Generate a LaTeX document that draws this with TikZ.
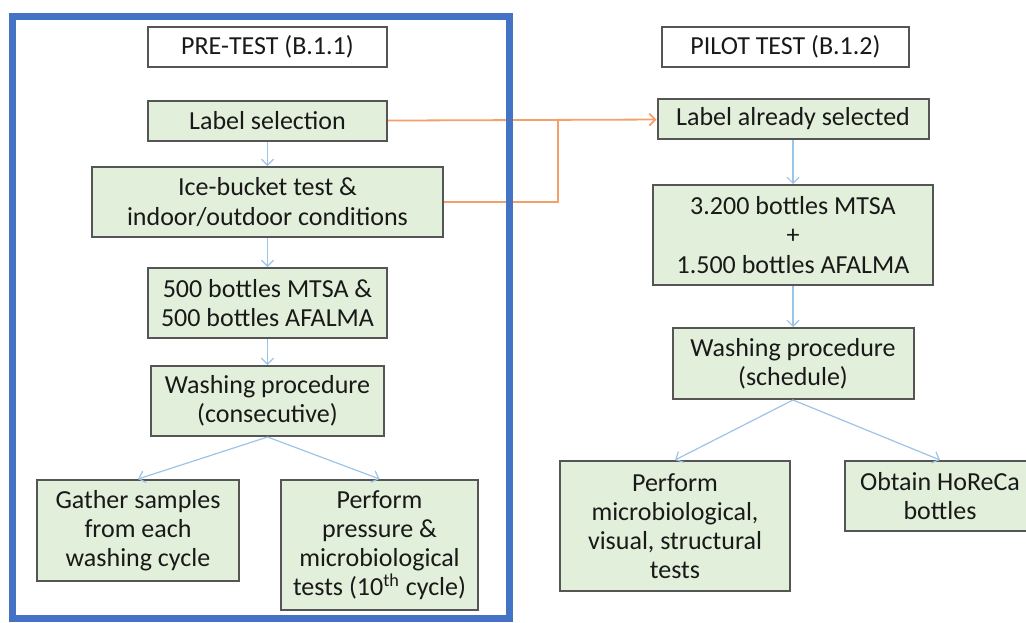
\documentclass[tikz,border=0pt]{standalone}
\usepackage{fontspec}
\setmainfont{Carlito}
\usepackage{tikz}
\usetikzlibrary{positioning}
\usetikzlibrary{calc,arrows.meta}
\definecolor{boxfill}{HTML}{E2EFDA}
\definecolor{boxline}{HTML}{555555}
\definecolor{flowblue}{HTML}{9DC3E6}
\definecolor{floworange}{HTML}{F4A06A}
\definecolor{frameblue}{HTML}{4472C4}

\begin{document}
\begin{tikzpicture}[x=0.5pt, y=-0.5pt, ->,
>={Straight Barb[length=3pt,width=6pt]},
node distance = 12pt and 20pt,
stage/.style = {rectangle, draw=boxline, line width=1pt, fill=#1,
	align=center, inner sep=2pt, text=black!90,
	font=\fontsize{13}{14.6}\selectfont},
stage/.default = boxfill,
head/.style = {stage=white, minimum height=20pt},
flow/.style = {draw=flowblue, line width=0.6pt},
feed/.style = {draw=floworange, line width=0.9pt}
]
\useasboundingbox (0,0) rectangle (1026,622);
% Draw the pre-test column
\node[head, minimum width=119.5pt] (A-0) at (267.5,47) {PRE-TEST (B.1.1)};
\node[stage, minimum width=119.5pt, minimum height=20pt,
below=16pt of A-0] (A-1) {Label selection};
\node[stage, minimum width=175.5pt, minimum height=35pt,
below=12pt of A-1] (A-2) {Ice-bucket test \&\\indoor/outdoor conditions};
\node[stage, minimum width=119.5pt, minimum height=35pt,
below=14.5pt of A-2] (A-3) {500 bottles MTSA \&\\500 bottles AFALMA};
\node[stage, minimum width=116.5pt, minimum height=35pt,
below=13pt of A-3] (A-4) {Washing procedure\\(consecutive)};
\node[stage, minimum width=101pt, minimum height=50.5pt,
below=21pt of A-4, xshift=-64.75pt] (A-5) {Gather samples\\from each\\washing cycle};
\node[stage, minimum width=98.5pt, minimum height=65pt,
below=21pt of A-4, xshift=56pt] (A-6) {Perform\\pressure \&\\microbiological\\tests (10\textsuperscript{th} cycle)};
% Draw the pilot test column
\node[head, minimum width=123.5pt] (B-0) at (785.5,47) {PILOT TEST (B.1.2)};
\node[stage, minimum width=135.5pt, minimum height=20pt] (B-1) at (793,119) {Label already selected};
\node[stage, minimum width=140pt, minimum height=50pt,
below=22pt of B-1] (B-2) {3.200 bottles MTSA\\+\\1.500 bottles AFALMA};
\node[stage, minimum width=120.5pt, minimum height=35.5pt,
below=20.5pt of B-2] (B-3) {Washing procedure\\(schedule)};
\node[stage, minimum width=115pt, minimum height=65pt,
below=30pt of B-3, xshift=-59pt] (B-4) {Perform\\microbiological,\\visual, structural\\tests};
\node[stage, minimum width=95pt, minimum height=35pt,
below=30pt of B-3, xshift=73.5pt] (B-5) {Obtain HoReCa\\bottles};

% Connect the steps of each column
\foreach \i [count=\j from 1] in {2,...,4}
{
	\path[flow] (A-\j) edge (A-\i);
}
\foreach \i [count=\j from 1] in {2,3}
{
	\path[flow] (B-\j) edge (B-\i);
}
\foreach \k in {5,6}
\draw[flow] (A-4.south) -- (A-\k.north);
\foreach \k in {4,5}
\draw[flow] (B-3.south) -- (B-\k.north);

% Carry the label over to the pilot test
\coordinate (J) at (558,119);
\draw[feed] (A-1) -- (B-1);
\draw[feed, -] (A-2.east) -| (J);

% Frame round the pre-test
\draw[frameblue, line width=3.5pt, -] (12,16.5) rectangle (509.5,618.5);
\end{tikzpicture}
\end{document}
